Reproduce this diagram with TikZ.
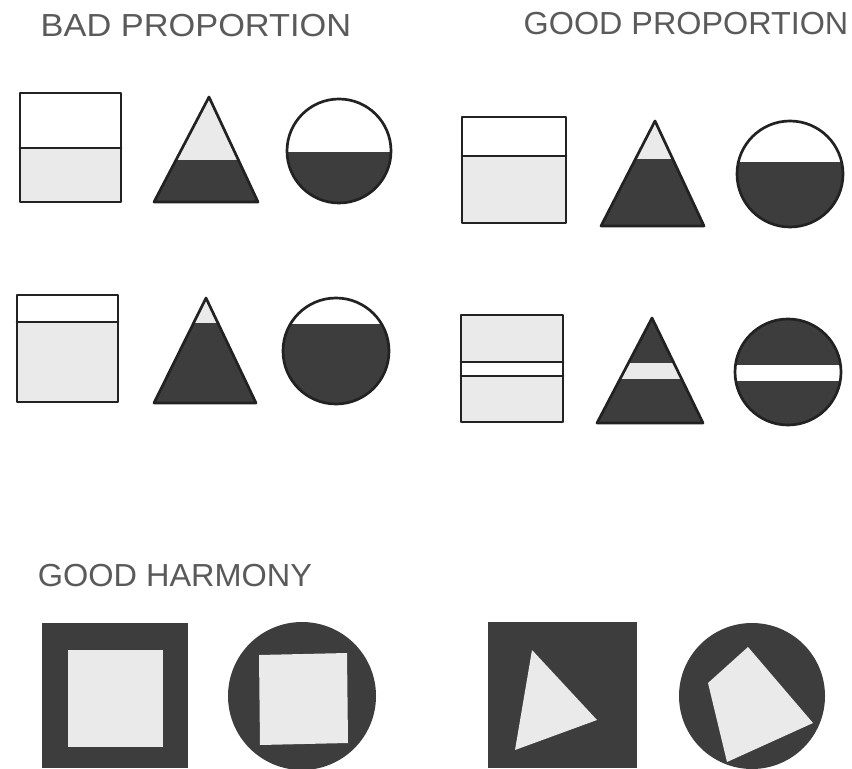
\documentclass[tikz,border=0pt]{standalone}
\usepackage{fontspec}
\setmainfont{Liberation Sans}
\usepackage{tikz}
\usetikzlibrary{arrows, shapes.geometric, fit}
\definecolor{fonce}{HTML}{3D3D3D}
\definecolor{clair}{HTML}{EAEAEA}
\definecolor{encre}{HTML}{222222}
\definecolor{crayon}{HTML}{5A5A5A}
\tikzset{
  trait/.style={line width=2.3pt, draw=encre, line join=round, line cap=round},
  titre/.style={inner sep=0pt, text=crayon}
}

\begin{document}
\begin{tikzpicture}[x=0.03cm, y=-0.03cm]
    \useasboundingbox (0,0) rectangle (852,769);

    % Les titres
    \node[titre] (titreMauvaise) at (196,26) {\resizebox{265pt}{19pt}{BAD PROPORTION}};
    \node[titre] (titreBonne) at (686,24) {\resizebox{277pt}{19pt}{GOOD PROPORTION}};
    \node[titre] (titreHarmonie) at (175,576) {\resizebox{234pt}{19pt}{GOOD HARMONY}};

    % Rangée 1, à gauche : carré
    \fill[clair] (20,148) rectangle (121,202);
    \draw[trait] (20,93) rectangle (121,202);
    \draw[trait] (20,148) -- (121,148);

    % Rangée 1, à gauche : triangle
    \begin{scope}
        \clip (209,97) -- (258,202) -- (154,202) -- cycle;
        \fill[clair] (150,90) rectangle (262,160);
        \fill[fonce] (150,160) rectangle (262,206);
    \end{scope}
    \draw[trait] (209,97) -- (258,202) -- (154,202) -- cycle;

    % Rangée 1, à gauche : cercle
    \begin{scope}
        \clip (339,151) circle (52);
        \fill[fonce] (280,152) rectangle (400,210);
    \end{scope}
    \draw[trait] (339,151) circle (52);

    % Rangée 2, à gauche : carré
    \fill[clair] (17,322) rectangle (118,402);
    \draw[trait] (17,295) rectangle (118,402);
    \draw[trait] (17,322) -- (118,322);

    % Rangée 2, à gauche : triangle
    \begin{scope}
        \clip (206,298) -- (256,403) -- (154,403) -- cycle;
        \fill[clair] (150,290) rectangle (262,323);
        \fill[fonce] (150,323) rectangle (262,410);
    \end{scope}
    \draw[trait] (206,298) -- (256,403) -- (154,403) -- cycle;

    % Rangée 2, à gauche : cercle
    \begin{scope}
        \clip (336,351) circle (53);
        \fill[fonce] (280,324) rectangle (400,410);
    \end{scope}
    \draw[trait] (336,351) circle (53);

    % Rangée 1, à droite : carré
    \fill[clair] (462,156) rectangle (566,223);
    \draw[trait] (462,117) rectangle (566,223);
    \draw[trait] (462,156) -- (566,156);

    % Rangée 1, à droite : triangle
    \begin{scope}
        \clip (655,121) -- (704,226) -- (601,226) -- cycle;
        \fill[clair] (595,115) rectangle (710,159);
        \fill[fonce] (595,159) rectangle (710,230);
    \end{scope}
    \draw[trait] (655,121) -- (704,226) -- (601,226) -- cycle;

    % Rangée 1, à droite : cercle
    \begin{scope}
        \clip (790,174) circle (53);
        \fill[fonce] (730,162) rectangle (850,232);
    \end{scope}
    \draw[trait] (790,174) circle (53);

    % Rangée 2, à droite : carré avec bande
    \fill[clair] (461,315) rectangle (563,362);
    \fill[clair] (461,376) rectangle (563,422);
    \draw[trait] (461,315) rectangle (563,422);
    \draw[trait] (461,362) -- (563,362);
    \draw[trait] (461,376) -- (563,376);

    % Rangée 2, à droite : triangle avec bande
    \begin{scope}
        \clip (652,318) -- (703,423) -- (597,423) -- cycle;
        \fill[fonce] (590,310) rectangle (710,430);
        \fill[clair] (590,363) rectangle (710,379);
    \end{scope}
    \draw[trait] (652,318) -- (703,423) -- (597,423) -- cycle;

    % Rangée 2, à droite : cercle avec bande
    \begin{scope}
        \clip (788,372) circle (53);
        \fill[fonce] (730,315) rectangle (850,430);
        \fill[white] (730,365) rectangle (850,381);
    \end{scope}
    \draw[trait] (788,372) circle (53);

    % Harmonie : carré dans le carré
    \fill[fonce] (42,623) rectangle (188,768);
    \fill[clair] (68,650) rectangle (163,747);

    % Harmonie : carré dans le cercle
    \fill[fonce] (302,696) circle (74);
    \fill[clair] (259,655) -- (347,653) -- (348,743) -- (260,745) -- cycle;

    % Harmonie : triangle dans le carré
    \fill[fonce] (488,622) rectangle (637,768);
    \fill[clair] (532,650) -- (597,720) -- (515,750) -- cycle;

    % Harmonie : quadrilatère dans le cercle
    \fill[fonce] (752,696) circle (73);
    \fill[clair] (748,647) -- (813,723) -- (727,762) -- (708,683) -- cycle;
\end{tikzpicture}
\end{document}
